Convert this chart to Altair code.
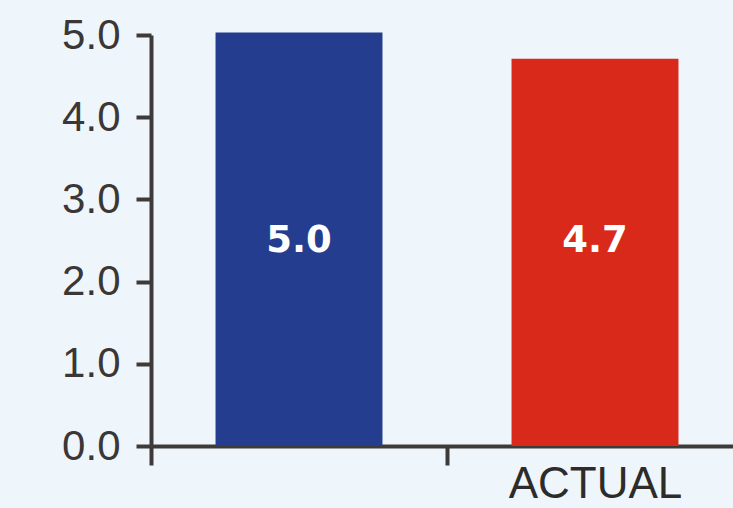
import altair as alt
import pandas as pd

categories = [" ", "ACTUAL"]
values = [5.03, 4.71]
labels = ["5.0", "4.7"]
colors = ["#243D8F", "#D9291B"]

df = pd.DataFrame({"cat": categories, "value": values, "label": labels, "color": colors})

x = alt.X("cat:N", sort=categories, title=None,
          scale=alt.Scale(range=[0, 592], paddingInner=0, paddingOuter=0),
          axis=alt.Axis(domainColor="#3E3A39", domainWidth=4, tickColor="#3E3A39",
                        tickWidth=4, tickSize=19, tickBand="extent", labelAngle=0,
                        labelFont="Liberation Sans", labelFontSize=44, labelColor="#2E2C2B",
                        labelPadding=-3))

bars = alt.Chart(df).mark_bar(width=alt.RelativeBandSize(0.564)).encode(
    x=x,
    y=alt.Y("value:Q", title=None,
            scale=alt.Scale(domain=[0, 5], nice=False),
            axis=alt.Axis(values=[0, 1, 2, 3, 4, 5], format=".1f", grid=False,
                          domainColor="#3E3A39", domainWidth=4, tickColor="#3E3A39",
                          tickWidth=4, tickSize=15, labelFont="Liberation Sans",
                          labelFontSize=42, labelColor="#3A3736", labelPadding=16)),
    color=alt.Color("color:N", scale=None),
)

text = alt.Chart(df).mark_text(font="DejaVu Sans", fontWeight="bold", fontSize=37,
                               color="white", baseline="middle", align="center").encode(
    x=alt.X("cat:N", sort=categories),
    y=alt.datum(2.5),
    text="label:N",
)

chart = alt.layer(bars, text).properties(
    width=582, height=411,
    autosize=alt.AutoSizeParams(type="none"),
    padding={"left": 151, "top": 35, "right": 0, "bottom": 62},
    background="#EEF6FC",
).configure_view(stroke=None, clip=False)

chart.save("out.html", embed_options={"renderer": "svg", "actions": False})
